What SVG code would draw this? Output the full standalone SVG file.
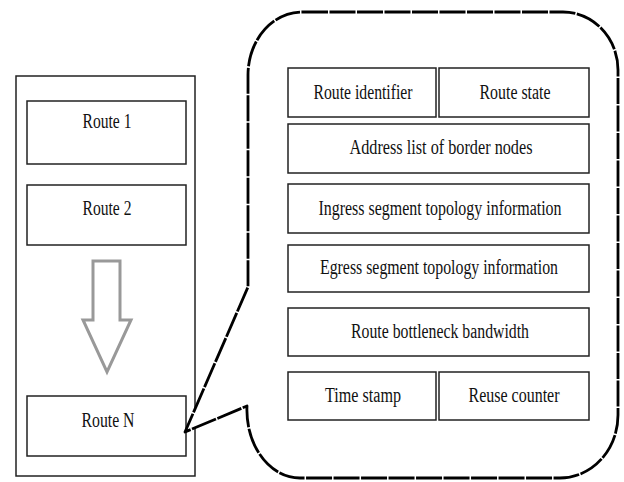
<svg xmlns="http://www.w3.org/2000/svg" width="624" height="482" viewBox="0 0 624 482">
<style>
.box{fill:#fff;stroke:#222;stroke-width:1.5}
.t{font-family:"Liberation Serif","Times New Roman",serif;font-size:20px;fill:#111;text-anchor:middle}
.bubble{fill:#fff;stroke:#000;stroke-width:2.8;stroke-dasharray:26 1.5;stroke-linejoin:round}
.arrow{fill:none;stroke:#999;stroke-width:3;stroke-linejoin:miter}
</style>
<rect width="624" height="482" fill="#fff"/>
<g id="route-list">
  <rect class="box" x="16" y="76" width="179" height="400"/>
</g>
<g id="route1">
  <rect class="box" x="27" y="101" width="159" height="63"/>
  <text class="t" x="107" y="128" textLength="49" lengthAdjust="spacingAndGlyphs">Route 1</text>
</g>
<g id="route2">
  <rect class="box" x="27" y="185" width="159" height="60"/>
  <text class="t" x="107" y="215" textLength="49" lengthAdjust="spacingAndGlyphs">Route 2</text>
</g>
<g id="arrow">
  <path class="arrow" d="M93 320 V261 H120 V320 H131 L107 372 L83 320 Z"/>
</g>
<g id="routeN">
  <rect class="box" x="27" y="396" width="159" height="60"/>
  <text class="t" x="108" y="427" textLength="53" lengthAdjust="spacingAndGlyphs">Route N</text>
</g>
<g id="connectors">
  <path id="callout" class="bubble" d="M302 12 H563 A55 58 0 0 1 618 70 V415 A58 63 0 0 1 560 478 H300 A53 68 0 0 1 247 406 L185 432 L248 287 V75 A54 63 0 0 1 302 12 Z"/>
</g>
<g id="route-identifier">
  <rect class="box" x="288" y="68" width="148" height="49"/>
  <text class="t" x="363" y="99" textLength="99" lengthAdjust="spacingAndGlyphs">Route identifier</text>
</g>
<g id="route-state">
  <rect class="box" x="439" y="68" width="150" height="49"/>
  <text class="t" x="515" y="99" textLength="71" lengthAdjust="spacingAndGlyphs">Route state</text>
</g>
<g id="address-list">
  <rect class="box" x="288" y="124" width="301" height="49"/>
  <text class="t" x="441" y="154" textLength="183" lengthAdjust="spacingAndGlyphs">Address list  of border nodes</text>
</g>
<g id="ingress">
  <rect class="box" x="288" y="184" width="301" height="49"/>
  <text class="t" x="440" y="215" textLength="243" lengthAdjust="spacingAndGlyphs">Ingress segment topology information</text>
</g>
<g id="egress">
  <rect class="box" x="288" y="245" width="301" height="47"/>
  <text class="t" x="439" y="274" textLength="238" lengthAdjust="spacingAndGlyphs">Egress segment topology information</text>
</g>
<g id="bottleneck">
  <rect class="box" x="288" y="308" width="301" height="48"/>
  <text class="t" x="440" y="338" textLength="178" lengthAdjust="spacingAndGlyphs">Route bottleneck bandwidth</text>
</g>
<g id="time-stamp">
  <rect class="box" x="288" y="372" width="148" height="48"/>
  <text class="t" x="363" y="402" textLength="76" lengthAdjust="spacingAndGlyphs">Time stamp</text>
</g>
<g id="reuse-counter">
  <rect class="box" x="439" y="372" width="150" height="48"/>
  <text class="t" x="514" y="402" textLength="91" lengthAdjust="spacingAndGlyphs">Reuse counter</text>
</g>
</svg>
